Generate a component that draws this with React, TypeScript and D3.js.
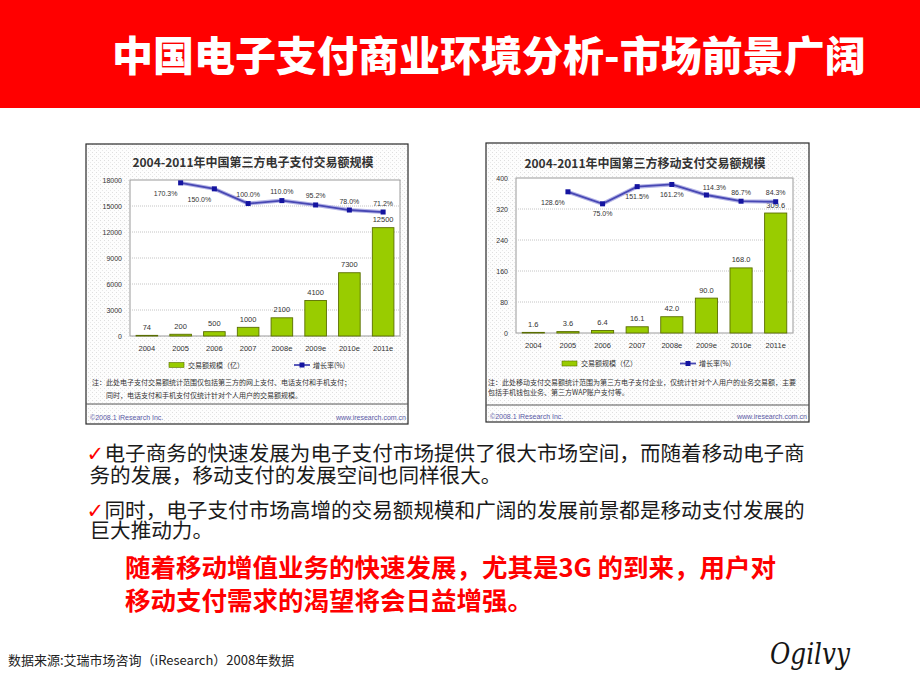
import React, { useEffect, useRef } from 'react';
import * as d3 from 'd3';

// categories shared by both charts
const years = ['2004', '2005', '2006', '2007', '2008e', '2009e', '2010e', '2011e'];

// left chart: third-party e-payment volume (亿) and growth (%)
const ePayVolume = [74, 200, 500, 1000, 2100, 4100, 7300, 12500];
const ePayGrowth: (number | null)[] = [null, 170.3, 150.0, 100.0, 110.0, 95.2, 78.0, 71.2];
const ePayGrowthSide = ['', 'bl', 'bl', 'a', 'a', 'a', 'a', 'a'];
const ePayTicks = [0, 3000, 6000, 9000, 12000, 15000, 18000];

// right chart: third-party mobile payment volume (亿) and growth (%)
const mPayVolume = [1.6, 3.6, 6.4, 16.1, 42.0, 90.0, 168.0, 309.6];
const mPayGrowth: (number | null)[] = [null, 128.6, 75.0, 151.5, 161.2, 114.3, 86.7, 84.3];
const mPayGrowthSide = ['', 'bl', 'b', 'b', 'b', 'ar', 'a', 'a'];
const mPayTicks = [0, 80, 160, 240, 320, 400];

const ePayTitle = '2004-2011年中国第三方电子支付交易额规模';
const mPayTitle = '2004-2011年中国第三方移动支付交易额规模';
const ePayNotes = [
  '注：此处电子支付交易额统计范围仅包括第三方的网上支付、电话支付和手机支付；',
  '同时，电话支付和手机支付仅统计针对个人用户的交易额规模。',
];
const mPayNotes = [
  '注：此处移动支付交易额统计范围为第三方电子支付企业，仅统计针对个人用户的业务交易额，主要',
  '包括手机钱包业务、第三方WAP账户支付等。',
];
const legendLabels = ['交易额规模（亿）', '增长率(%)'];

const CJK = '"Noto Sans CJK SC", sans-serif';
const NUM = '"Liberation Sans", Arial, sans-serif';

type Box = { x: number; y: number; w: number; h: number };
type Plot = { x0: number; x1: number; y0: number; y1: number };

type PanelProps = {
  title: string;
  titleX: number;
  titleY: number;
  volume: number[];
  growth: (number | null)[];
  growthSide: string[];
  ticks: number[];
  growthDomain: [number, number];
  decimals: number;
  frame: Box;
  plot: Plot;
  xPad: number;
  legendY: number;
  legendBarX: number;
  legendLineX: number;
  notes: string[];
  noteY: number[];
  noteX: number[];
  sepY: number;
  copyY: number;
};

const sideOffset: Record<string, [number, number]> = {
  a: [0, -9],
  b: [0, 10],
  bl: [-15, 11],
  ar: [8, -8],
};

function ChartPanel(p: PanelProps) {
  const ref = useRef<SVGGElement>(null);

  useEffect(() => {
    const g = d3.select(ref.current);
    g.selectAll('*').remove();
    const { frame, plot } = p;

    g.append('rect')
      .attr('x', frame.x)
      .attr('y', frame.y)
      .attr('width', frame.w)
      .attr('height', frame.h)
      .attr('fill', 'url(#speckle)')
      .attr('stroke', '#2a2a2a')
      .attr('stroke-width', 1.2);

    g.append('text')
      .attr('x', p.titleX)
      .attr('y', p.titleY)
      .attr('text-anchor', 'middle')
      .attr('font-family', CJK)
      .attr('font-weight', 'bold')
      .attr('font-size', 12)
      .attr('fill', '#333')
      .text(p.title);

    const x = d3
      .scaleBand<string>()
      .domain(years)
      .range([plot.x0, plot.x1])
      .paddingInner(0.36)
      .paddingOuter(0.18);
    const y = d3
      .scaleLinear()
      .domain([0, d3.max(p.ticks) as number])
      .range([plot.y1, plot.y0]);
    // hidden secondary axis for the growth line
    const y2 = d3.scaleLinear().domain(p.growthDomain).range([plot.y1, plot.y0]);

    g.append('rect')
      .attr('x', plot.x0)
      .attr('y', plot.y0)
      .attr('width', plot.x1 - plot.x0)
      .attr('height', plot.y1 - plot.y0)
      .attr('fill', '#fff')
      .attr('stroke', '#9a9a9a');

    g.selectAll('.grid')
      .data(p.ticks.slice(1, -1))
      .enter()
      .append('line')
      .attr('x1', plot.x0)
      .attr('x2', plot.x1)
      .attr('y1', (d) => y(d))
      .attr('y2', (d) => y(d))
      .attr('stroke', '#c4c4c4')
      .attr('stroke-dasharray', '1,1');

    const yAxis = g
      .append('g')
      .attr('transform', `translate(${plot.x0},0)`)
      .call(d3.axisLeft(y).tickValues(p.ticks).tickSize(0).tickPadding(8).tickFormat(d3.format('d')));
    yAxis.select('.domain').remove();
    yAxis.selectAll('text').attr('font-size', 7).attr('font-family', NUM).attr('fill', '#333');

    const xAxis = g
      .append('g')
      .attr('transform', `translate(0,${plot.y1})`)
      .call(d3.axisBottom(x).tickSize(0).tickPadding(p.xPad));
    xAxis.select('.domain').remove();
    xAxis.selectAll('text').attr('font-size', 7.5).attr('font-family', NUM).attr('fill', '#333');

    g.selectAll('.bar')
      .data(p.volume)
      .enter()
      .append('rect')
      .attr('x', (d, i) => x(years[i]) as number)
      .attr('y', (d) => y(d))
      .attr('width', x.bandwidth())
      .attr('height', (d) => plot.y1 - y(d))
      .attr('fill', '#99cc00')
      .attr('stroke', '#5a6e00')
      .attr('stroke-width', 0.9);

    g.selectAll('.barlabel')
      .data(p.volume)
      .enter()
      .append('text')
      .attr('x', (d, i) => (x(years[i]) as number) + x.bandwidth() / 2)
      .attr('y', (d) => y(d) - 5.5)
      .attr('text-anchor', 'middle')
      .attr('font-size', 7.5)
      .attr('font-family', NUM)
      .attr('fill', '#333')
      .text((d) => d.toFixed(p.decimals));

    const pts = years
      .map((yr, i) => ({ yr, v: p.growth[i], side: p.growthSide[i] }))
      .filter((d) => d.v != null) as { yr: string; v: number; side: string }[];
    const cx = (d: { yr: string }) => (x(d.yr) as number) + x.bandwidth() / 2;
    const line = d3
      .line<{ yr: string; v: number }>()
      .x(cx)
      .y((d) => y2(d.v));

    g.append('path')
      .attr('d', line(pts))
      .attr('fill', 'none')
      .attr('stroke', '#b4b4e6')
      .attr('stroke-width', 4);
    g.append('path')
      .attr('d', line(pts))
      .attr('fill', 'none')
      .attr('stroke', '#4848b4')
      .attr('stroke-width', 1.8);

    g.selectAll('.marker')
      .data(pts)
      .enter()
      .append('rect')
      .attr('x', (d) => cx(d) - 2.5)
      .attr('y', (d) => y2(d.v) - 2.5)
      .attr('width', 5)
      .attr('height', 5)
      .attr('fill', '#1414a0');

    g.selectAll('.growthlabel')
      .data(pts)
      .enter()
      .append('text')
      .attr('x', (d) => cx(d) + sideOffset[d.side][0])
      .attr('y', (d) => y2(d.v) + sideOffset[d.side][1] + 2.5)
      .attr('text-anchor', 'middle')
      .attr('font-size', 7)
      .attr('font-family', NUM)
      .attr('fill', '#333')
      .text((d) => `${d.v.toFixed(1)}%`);

    // legend
    g.append('rect')
      .attr('x', p.legendBarX)
      .attr('y', p.legendY - 2.5)
      .attr('width', 15)
      .attr('height', 5)
      .attr('fill', '#99cc00')
      .attr('stroke', '#5a6e00')
      .attr('stroke-width', 0.6);
    g.append('text')
      .attr('x', p.legendBarX + 19)
      .attr('y', p.legendY + 2.5)
      .attr('font-size', 7)
      .attr('font-family', CJK)
      .attr('fill', '#333')
      .text(legendLabels[0]);
    g.append('line')
      .attr('x1', p.legendLineX)
      .attr('x2', p.legendLineX + 16)
      .attr('y1', p.legendY)
      .attr('y2', p.legendY)
      .attr('stroke', '#4848b4')
      .attr('stroke-width', 1.8);
    g.append('rect')
      .attr('x', p.legendLineX + 5.5)
      .attr('y', p.legendY - 2.5)
      .attr('width', 5)
      .attr('height', 5)
      .attr('fill', '#1414a0');
    g.append('text')
      .attr('x', p.legendLineX + 19)
      .attr('y', p.legendY + 2.5)
      .attr('font-size', 7)
      .attr('font-family', CJK)
      .attr('fill', '#333')
      .text(legendLabels[1]);

    g.selectAll('.note')
      .data(p.notes)
      .enter()
      .append('text')
      .attr('x', (d, i) => p.noteX[i])
      .attr('y', (d, i) => p.noteY[i])
      .attr('font-size', 7)
      .attr('font-family', CJK)
      .attr('fill', '#333')
      .text((d) => d);

    g.append('line')
      .attr('x1', frame.x)
      .attr('x2', frame.x + frame.w)
      .attr('y1', p.sepY)
      .attr('y2', p.sepY)
      .attr('stroke', '#555')
      .attr('stroke-width', 1);

    g.append('text')
      .attr('x', frame.x + 4)
      .attr('y', p.copyY)
      .attr('font-size', 7)
      .attr('font-family', NUM)
      .attr('fill', '#5a5aa6')
      .text('©2008.1 iResearch Inc.');
    g.append('text')
      .attr('x', frame.x + frame.w - 2)
      .attr('y', p.copyY)
      .attr('text-anchor', 'end')
      .attr('font-size', 7)
      .attr('font-family', NUM)
      .attr('fill', '#5a5aa6')
      .text('www.iresearch.com.cn');
  }, []);

  return <g ref={ref} />;
}

const Check = ({ y }: { y: number }) => (
  <text x={86.5} y={y} fill="#ff0000" fontFamily='"DejaVu Sans", sans-serif' fontSize={21} fontWeight="bold">
    ✓
  </text>
);

export default function App() {
  return (
    <svg
      width={920}
      height={690}
      style={{ position: 'absolute', left: 0, top: 0, background: '#fff' }}
    >
      <defs>
        <pattern id="speckle" width="4" height="4" patternUnits="userSpaceOnUse">
          <rect width="4" height="4" fill="#fdfdfd" />
          <rect x="0" y="0" width="1" height="1" fill="#dedede" />
          <rect x="2" y="2" width="1" height="1" fill="#e8e8e8" />
        </pattern>
      </defs>

      <rect x={0} y={0} width={920} height={108} fill="#ff0000" />
      <text
        x={112}
        y={70.5}
        fontFamily={CJK}
        fontWeight="900"
        fontSize={41}
        fill="#fff"
      >
        中国电子支付商业环境分析-市场前景广阔
      </text>

      <ChartPanel
        title={ePayTitle}
        titleX={253}
        titleY={167}
        volume={ePayVolume}
        growth={ePayGrowth}
        growthSide={ePayGrowthSide}
        ticks={ePayTicks}
        growthDomain={[-350, 180]}
        decimals={0}
        frame={{ x: 86, y: 144, w: 322, h: 280 }}
        plot={{ x0: 130, x1: 400, y0: 180, y1: 336 }}
        xPad={9.5}
        legendY={365}
        legendBarX={169}
        legendLineX={294}
        notes={ePayNotes}
        noteX={[92, 106]}
        noteY={[384.5, 397.5]}
        sepY={404}
        copyY={419.5}
      />
      <ChartPanel
        title={mPayTitle}
        titleX={645}
        titleY={168}
        volume={mPayVolume}
        growth={mPayGrowth}
        growthSide={mPayGrowthSide}
        ticks={mPayTicks}
        growthDomain={[-500, 190]}
        decimals={1}
        frame={{ x: 486, y: 143, w: 323, h: 279 }}
        plot={{ x0: 516, x1: 793, y0: 178, y1: 333 }}
        xPad={10}
        legendY={363.5}
        legendBarX={562}
        legendLineX={680}
        notes={mPayNotes}
        noteX={[488, 488]}
        noteY={[385, 395]}
        sepY={405}
        copyY={418.5}
      />

      <Check y={461} />
      <Check y={517.5} />
      <g fontFamily={CJK} fontSize={20.6} fill="#1a1a1a">
        <text x={104.5} y={461}>电子商务的快速发展为电子支付市场提供了很大市场空间，而随着移动电子商</text>
        <text x={89.5} y={483}>务的发展，移动支付的发展空间也同样很大。</text>
        <text x={104.5} y={517.5}>同时，电子支付市场高增的交易额规模和广阔的发展前景都是移动支付发展的</text>
        <text x={89.5} y={538}>巨大推动力。</text>
      </g>

      <g fontFamily={CJK} fontSize={25.5} fontWeight="bold" fill="#ff0000">
        <text x={125} y={576.5}>随着移动增值业务的快速发展，尤其是3G 的到来，用户对</text>
        <text x={125} y={609.5}>移动支付需求的渴望将会日益增强。</text>
      </g>

      <text x={8} y={665} fontFamily={CJK} fontSize={13} fill="#222">
        数据来源:艾瑞市场咨询（iResearch）2008年数据
      </text>

      <text
        x={770}
        y={664}
        fontFamily='"DejaVu Serif", serif'
        fontStyle="italic"
        fontSize={30}
        fill="#151515"
        textLength={80}
        lengthAdjust="spacingAndGlyphs"
      >
        Ogilvy
      </text>
    </svg>
  );
}
